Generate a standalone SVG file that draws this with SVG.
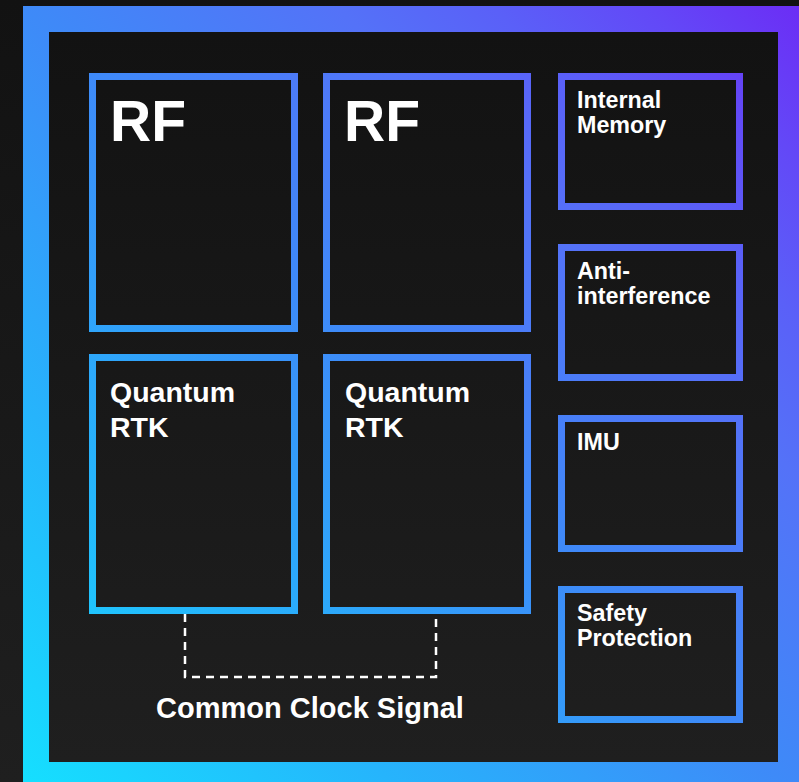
<svg xmlns="http://www.w3.org/2000/svg" width="799" height="782" viewBox="0 0 799 782">
  <defs>
    <linearGradient id="g" gradientUnits="userSpaceOnUse" x1="0" y1="782" x2="799" y2="0">
      <stop offset="0" stop-color="#14e2ff"/>
      <stop offset="0.25" stop-color="#26b4fc"/>
      <stop offset="0.5" stop-color="#3e8af8"/>
      <stop offset="0.7" stop-color="#5472f8"/>
      <stop offset="0.8" stop-color="#5a60f8"/>
      <stop offset="0.9" stop-color="#6348f7"/>
      <stop offset="1" stop-color="#6c2cf5"/>
    </linearGradient>
    <linearGradient id="bg" x1="0" y1="0" x2="0" y2="1">
      <stop offset="0" stop-color="#121212"/>
      <stop offset="1" stop-color="#1f1f1f"/>
    </linearGradient>
    <style>
      .box { fill: none; stroke: url(#g); stroke-width: 7; }
      .t { font-family: "Liberation Sans", Arial, sans-serif; font-weight: bold; fill: #ffffff; }
      .big { font-size: 57px; }
      .mid { font-size: 28.5px; }
      .sm { font-size: 23.3px; }
      .dash { fill: none; stroke: #ffffff; stroke-width: 2.5; stroke-dasharray: 8 6; }
    </style>
  </defs>
  <rect x="0" y="0" width="799" height="782" fill="url(#bg)"/>
  <rect x="23" y="6" width="782" height="782" fill="url(#g)"/>
  <rect x="49" y="32" width="729" height="730" fill="url(#bg)"/>

  <g id="connectors">
    <path class="dash" d="M185 614 V677 H436 V614"/>
  </g>

  <g id="rf1">
    <rect class="box" x="92.5" y="76.5" width="202" height="252"/>
    <text class="t big" x="110" y="141">RF</text>
  </g>
  <g id="rf2">
    <rect class="box" x="326.5" y="76.5" width="201" height="252"/>
    <text class="t big" x="344" y="141">RF</text>
  </g>
  <g id="qrtk1">
    <rect class="box" x="92.5" y="357.5" width="202" height="253"/>
    <text class="t mid" x="110" y="402">Quantum</text>
    <text class="t mid" x="110" y="437">RTK</text>
  </g>
  <g id="qrtk2">
    <rect class="box" x="326.5" y="357.5" width="201" height="253"/>
    <text class="t mid" x="345" y="402">Quantum</text>
    <text class="t mid" x="345" y="437">RTK</text>
  </g>
  <g id="memory">
    <rect class="box" x="561.5" y="76.5" width="178" height="130"/>
    <text class="t sm" x="577" y="108">Internal</text>
    <text class="t sm" x="577" y="133">Memory</text>
  </g>
  <g id="anti">
    <rect class="box" x="561.5" y="247.5" width="178" height="130"/>
    <text class="t sm" x="577" y="279">Anti-</text>
    <text class="t sm" x="577" y="304">interference</text>
  </g>
  <g id="imu">
    <rect class="box" x="561.5" y="418.5" width="178" height="130"/>
    <text class="t sm" x="577" y="450">IMU</text>
  </g>
  <g id="safety">
    <rect class="box" x="561.5" y="589.5" width="178" height="130"/>
    <text class="t sm" x="577" y="621">Safety</text>
    <text class="t sm" x="577" y="646">Protection</text>
  </g>
  <text class="t" x="310" y="718" font-size="29" text-anchor="middle">Common Clock Signal</text>
</svg>
